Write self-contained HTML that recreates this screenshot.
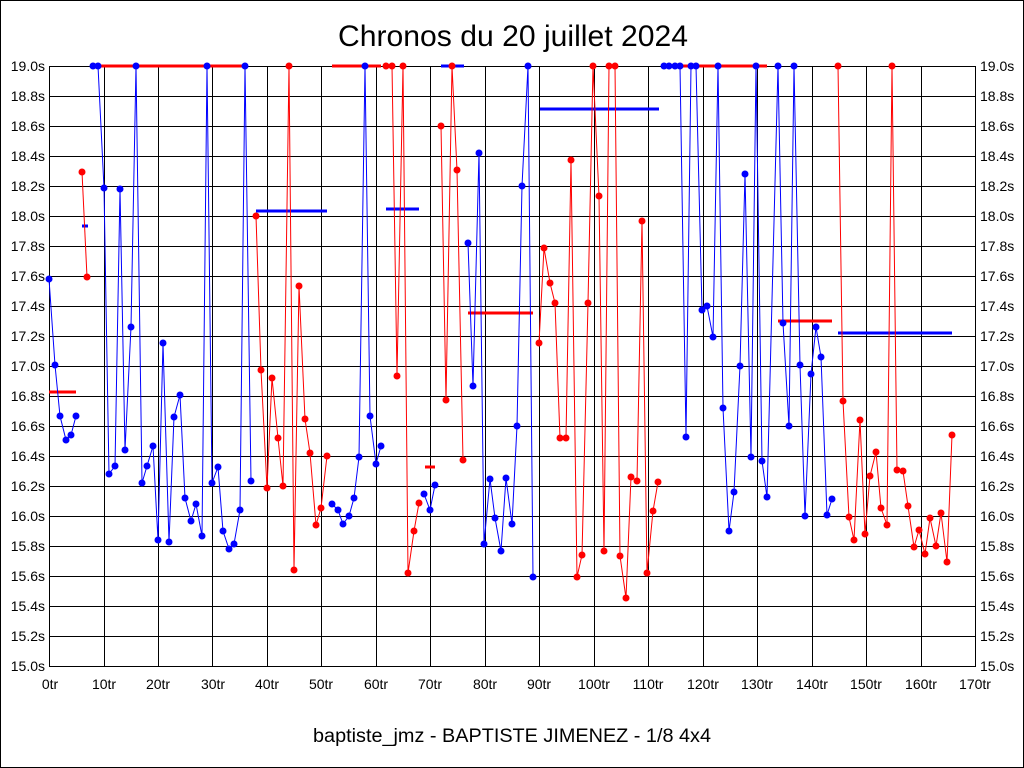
<!DOCTYPE html>
<html><head><meta charset="utf-8"><style>
html,body{margin:0;padding:0;background:#fff;}
svg{display:block;}
text{font-family:"Liberation Sans",sans-serif;}
</style></head><body>
<svg width="1024" height="768" xmlns="http://www.w3.org/2000/svg">
<rect x="0.5" y="0.5" width="1023" height="767" fill="#fff" stroke="#000"/>
<text x="513" y="46" font-size="30" text-anchor="middle" textLength="350" lengthAdjust="spacingAndGlyphs">Chronos du 20 juillet 2024</text>
<text x="512" y="742" font-size="19" text-anchor="middle" textLength="398" lengthAdjust="spacingAndGlyphs">baptiste_jmz - BAPTISTE JIMENEZ - 1/8 4x4</text>
<g stroke="#000" stroke-width="1" shape-rendering="crispEdges">
<rect x="49.5" y="66.5" width="926" height="600" fill="none"/>
<path d="M49 96.5H975M49 126.5H975M49 156.5H975M49 186.5H975M49 216.5H975M49 246.5H975M49 276.5H975M49 306.5H975M49 336.5H975M49 366.5H975M49 396.5H975M49 426.5H975M49 456.5H975M49 486.5H975M49 516.5H975M49 546.5H975M49 576.5H975M49 606.5H975M49 636.5H975"/>
<path d="M104.5 66V666M158.5 66V666M212.5 66V666M267.5 66V666M321.5 66V666M376.5 66V666M430.5 66V666M485.5 66V666M539.5 66V666M594.5 66V666M648.5 66V666M703.5 66V666M757.5 66V666M812.5 66V666M866.5 66V666M921.5 66V666"/>
</g>
<g font-size="14" text-anchor="end">
<text x="45" y="71">19.0s</text><text x="45" y="101">18.8s</text><text x="45" y="131">18.6s</text><text x="45" y="161">18.4s</text><text x="45" y="191">18.2s</text><text x="45" y="221">18.0s</text><text x="45" y="251">17.8s</text><text x="45" y="281">17.6s</text><text x="45" y="311">17.4s</text><text x="45" y="341">17.2s</text><text x="45" y="371">17.0s</text><text x="45" y="401">16.8s</text><text x="45" y="431">16.6s</text><text x="45" y="461">16.4s</text><text x="45" y="491">16.2s</text><text x="45" y="521">16.0s</text><text x="45" y="551">15.8s</text><text x="45" y="581">15.6s</text><text x="45" y="611">15.4s</text><text x="45" y="641">15.2s</text><text x="45" y="671">15.0s</text>
</g>
<g font-size="14" text-anchor="start">
<text x="980" y="71">19.0s</text><text x="980" y="101">18.8s</text><text x="980" y="131">18.6s</text><text x="980" y="161">18.4s</text><text x="980" y="191">18.2s</text><text x="980" y="221">18.0s</text><text x="980" y="251">17.8s</text><text x="980" y="281">17.6s</text><text x="980" y="311">17.4s</text><text x="980" y="341">17.2s</text><text x="980" y="371">17.0s</text><text x="980" y="401">16.8s</text><text x="980" y="431">16.6s</text><text x="980" y="461">16.4s</text><text x="980" y="491">16.2s</text><text x="980" y="521">16.0s</text><text x="980" y="551">15.8s</text><text x="980" y="581">15.6s</text><text x="980" y="611">15.4s</text><text x="980" y="641">15.2s</text><text x="980" y="671">15.0s</text>
</g>
<g font-size="14" text-anchor="middle">
<text x="50" y="689">0tr</text><text x="104" y="689">10tr</text><text x="158" y="689">20tr</text><text x="213" y="689">30tr</text><text x="267" y="689">40tr</text><text x="321" y="689">50tr</text><text x="376" y="689">60tr</text><text x="430" y="689">70tr</text><text x="485" y="689">80tr</text><text x="539" y="689">90tr</text><text x="594" y="689">100tr</text><text x="648" y="689">110tr</text><text x="703" y="689">120tr</text><text x="757" y="689">130tr</text><text x="812" y="689">140tr</text><text x="866" y="689">150tr</text><text x="921" y="689">160tr</text><text x="975" y="689">170tr</text>
</g>
<g stroke-width="3">
<path stroke="#f00" d="M49 392H76M98 66H245M332 66H381M425 467H435M468 313H533M680 66H767M778 321H832"/>
<path stroke="#00f" d="M82 226H88M256 211H327M386 209H419M441 66H464M540 109H659M838 333H952"/>
</g>
<g fill="none" stroke-width="1">
<polyline stroke="#00f" points="49,279 55,365 60,416 66,440 71,435 76,416"/>
<polyline stroke="#f00" points="82,172 87,277"/>
<polyline stroke="#00f" points="93,66 98,66 104,188 109,474 115,466 120,189 125,450 131,327 136,66 142,483 147,466 153,446 158,540 163,343 169,542 174,417 180,395 185,498 191,521 196,504 202,536 207,66 212,483 218,467 223,531 229,549 234,544 240,510 245,66 251,481"/>
<polyline stroke="#f00" points="256,216 261,370 267,488 272,378 278,438 283,486 289,66 294,570 299,286 305,419 310,453 316,525 321,508 327,456"/>
<polyline stroke="#00f" points="332,504 338,510 343,524 349,516 354,498 359,457 365,66 370,416 376,464 381,446"/>
<polyline stroke="#f00" points="386,66 392,66 397,376 403,66 408,573 414,531 419,503"/>
<polyline stroke="#00f" points="424,494 430,510 435,485"/>
<polyline stroke="#f00" points="441,126 446,400 452,66 457,170 463,460"/>
<polyline stroke="#00f" points="468,243 473,386 479,153 484,544 490,479 495,518 501,551 506,478 512,524 517,426 522,186 528,66 533,577"/>
<polyline stroke="#f00" points="539,343 544,248 550,283 555,303 560,438 566,438 571,160 577,577 582,555 588,303 593,66 599,196 604,551 609,66 615,66 620,556 626,598 631,477 637,481 642,221 647,573 653,511 658,482"/>
<polyline stroke="#00f" points="664,66 669,66 675,66 680,66 686,437 691,66 696,66 702,310 707,306 713,337 718,66 723,408 729,531 734,492 740,366 745,174 751,457 756,66 762,461 767,497 772,300 778,66 783,323 789,426 794,66 800,365 805,516 811,374 816,327 821,357 827,515 832,499"/>
<polyline stroke="#f00" points="838,66 843,401 849,517 854,540 860,420 865,534 870,476 876,452 881,508 887,525 892,66 897,470 903,471 908,506 914,547 919,530 925,554 930,518 936,546 941,513 947,562 952,435"/>
</g>
<g fill="#00f">
<circle cx="49" cy="279" r="3.5"/><circle cx="55" cy="365" r="3.5"/><circle cx="60" cy="416" r="3.5"/><circle cx="66" cy="440" r="3.5"/><circle cx="71" cy="435" r="3.5"/><circle cx="76" cy="416" r="3.5"/>
<circle cx="93" cy="66" r="3.5"/><circle cx="98" cy="66" r="3.5"/><circle cx="104" cy="188" r="3.5"/><circle cx="109" cy="474" r="3.5"/><circle cx="115" cy="466" r="3.5"/><circle cx="120" cy="189" r="3.5"/><circle cx="125" cy="450" r="3.5"/><circle cx="131" cy="327" r="3.5"/><circle cx="136" cy="66" r="3.5"/><circle cx="142" cy="483" r="3.5"/><circle cx="147" cy="466" r="3.5"/><circle cx="153" cy="446" r="3.5"/><circle cx="158" cy="540" r="3.5"/><circle cx="163" cy="343" r="3.5"/><circle cx="169" cy="542" r="3.5"/><circle cx="174" cy="417" r="3.5"/><circle cx="180" cy="395" r="3.5"/><circle cx="185" cy="498" r="3.5"/><circle cx="191" cy="521" r="3.5"/><circle cx="196" cy="504" r="3.5"/><circle cx="202" cy="536" r="3.5"/><circle cx="207" cy="66" r="3.5"/><circle cx="212" cy="483" r="3.5"/><circle cx="218" cy="467" r="3.5"/><circle cx="223" cy="531" r="3.5"/><circle cx="229" cy="549" r="3.5"/><circle cx="234" cy="544" r="3.5"/><circle cx="240" cy="510" r="3.5"/><circle cx="245" cy="66" r="3.5"/><circle cx="251" cy="481" r="3.5"/>
<circle cx="332" cy="504" r="3.5"/><circle cx="338" cy="510" r="3.5"/><circle cx="343" cy="524" r="3.5"/><circle cx="349" cy="516" r="3.5"/><circle cx="354" cy="498" r="3.5"/><circle cx="359" cy="457" r="3.5"/><circle cx="365" cy="66" r="3.5"/><circle cx="370" cy="416" r="3.5"/><circle cx="376" cy="464" r="3.5"/><circle cx="381" cy="446" r="3.5"/>
<circle cx="424" cy="494" r="3.5"/><circle cx="430" cy="510" r="3.5"/><circle cx="435" cy="485" r="3.5"/>
<circle cx="468" cy="243" r="3.5"/><circle cx="473" cy="386" r="3.5"/><circle cx="479" cy="153" r="3.5"/><circle cx="484" cy="544" r="3.5"/><circle cx="490" cy="479" r="3.5"/><circle cx="495" cy="518" r="3.5"/><circle cx="501" cy="551" r="3.5"/><circle cx="506" cy="478" r="3.5"/><circle cx="512" cy="524" r="3.5"/><circle cx="517" cy="426" r="3.5"/><circle cx="522" cy="186" r="3.5"/><circle cx="528" cy="66" r="3.5"/><circle cx="533" cy="577" r="3.5"/>
<circle cx="664" cy="66" r="3.5"/><circle cx="669" cy="66" r="3.5"/><circle cx="675" cy="66" r="3.5"/><circle cx="680" cy="66" r="3.5"/><circle cx="686" cy="437" r="3.5"/><circle cx="691" cy="66" r="3.5"/><circle cx="696" cy="66" r="3.5"/><circle cx="702" cy="310" r="3.5"/><circle cx="707" cy="306" r="3.5"/><circle cx="713" cy="337" r="3.5"/><circle cx="718" cy="66" r="3.5"/><circle cx="723" cy="408" r="3.5"/><circle cx="729" cy="531" r="3.5"/><circle cx="734" cy="492" r="3.5"/><circle cx="740" cy="366" r="3.5"/><circle cx="745" cy="174" r="3.5"/><circle cx="751" cy="457" r="3.5"/><circle cx="756" cy="66" r="3.5"/><circle cx="762" cy="461" r="3.5"/><circle cx="767" cy="497" r="3.5"/><circle cx="778" cy="66" r="3.5"/><circle cx="783" cy="323" r="3.5"/><circle cx="789" cy="426" r="3.5"/><circle cx="794" cy="66" r="3.5"/><circle cx="800" cy="365" r="3.5"/><circle cx="805" cy="516" r="3.5"/><circle cx="811" cy="374" r="3.5"/><circle cx="816" cy="327" r="3.5"/><circle cx="821" cy="357" r="3.5"/><circle cx="827" cy="515" r="3.5"/><circle cx="832" cy="499" r="3.5"/>
</g>
<g fill="#f00">
<circle cx="82" cy="172" r="3.5"/><circle cx="87" cy="277" r="3.5"/>
<circle cx="256" cy="216" r="3.5"/><circle cx="261" cy="370" r="3.5"/><circle cx="267" cy="488" r="3.5"/><circle cx="272" cy="378" r="3.5"/><circle cx="278" cy="438" r="3.5"/><circle cx="283" cy="486" r="3.5"/><circle cx="289" cy="66" r="3.5"/><circle cx="294" cy="570" r="3.5"/><circle cx="299" cy="286" r="3.5"/><circle cx="305" cy="419" r="3.5"/><circle cx="310" cy="453" r="3.5"/><circle cx="316" cy="525" r="3.5"/><circle cx="321" cy="508" r="3.5"/><circle cx="327" cy="456" r="3.5"/>
<circle cx="386" cy="66" r="3.5"/><circle cx="392" cy="66" r="3.5"/><circle cx="397" cy="376" r="3.5"/><circle cx="403" cy="66" r="3.5"/><circle cx="408" cy="573" r="3.5"/><circle cx="414" cy="531" r="3.5"/><circle cx="419" cy="503" r="3.5"/>
<circle cx="441" cy="126" r="3.5"/><circle cx="446" cy="400" r="3.5"/><circle cx="452" cy="66" r="3.5"/><circle cx="457" cy="170" r="3.5"/><circle cx="463" cy="460" r="3.5"/>
<circle cx="539" cy="343" r="3.5"/><circle cx="544" cy="248" r="3.5"/><circle cx="550" cy="283" r="3.5"/><circle cx="555" cy="303" r="3.5"/><circle cx="560" cy="438" r="3.5"/><circle cx="566" cy="438" r="3.5"/><circle cx="571" cy="160" r="3.5"/><circle cx="577" cy="577" r="3.5"/><circle cx="582" cy="555" r="3.5"/><circle cx="588" cy="303" r="3.5"/><circle cx="593" cy="66" r="3.5"/><circle cx="599" cy="196" r="3.5"/><circle cx="604" cy="551" r="3.5"/><circle cx="609" cy="66" r="3.5"/><circle cx="615" cy="66" r="3.5"/><circle cx="620" cy="556" r="3.5"/><circle cx="626" cy="598" r="3.5"/><circle cx="631" cy="477" r="3.5"/><circle cx="637" cy="481" r="3.5"/><circle cx="642" cy="221" r="3.5"/><circle cx="647" cy="573" r="3.5"/><circle cx="653" cy="511" r="3.5"/><circle cx="658" cy="482" r="3.5"/>
<circle cx="838" cy="66" r="3.5"/><circle cx="843" cy="401" r="3.5"/><circle cx="849" cy="517" r="3.5"/><circle cx="854" cy="540" r="3.5"/><circle cx="860" cy="420" r="3.5"/><circle cx="865" cy="534" r="3.5"/><circle cx="870" cy="476" r="3.5"/><circle cx="876" cy="452" r="3.5"/><circle cx="881" cy="508" r="3.5"/><circle cx="887" cy="525" r="3.5"/><circle cx="892" cy="66" r="3.5"/><circle cx="897" cy="470" r="3.5"/><circle cx="903" cy="471" r="3.5"/><circle cx="908" cy="506" r="3.5"/><circle cx="914" cy="547" r="3.5"/><circle cx="919" cy="530" r="3.5"/><circle cx="925" cy="554" r="3.5"/><circle cx="930" cy="518" r="3.5"/><circle cx="936" cy="546" r="3.5"/><circle cx="941" cy="513" r="3.5"/><circle cx="947" cy="562" r="3.5"/><circle cx="952" cy="435" r="3.5"/>
</g>
</svg>
</body></html>
